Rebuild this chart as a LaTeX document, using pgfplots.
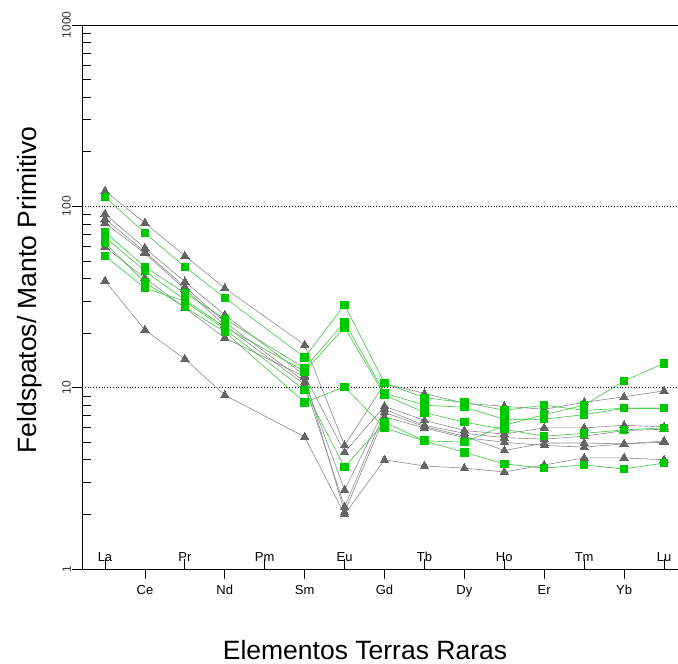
\documentclass[border=0pt]{standalone}
\usepackage{pgfplots}
\pgfplotsset{compat=1.18}
\usepackage{fontspec}
\setmainfont{Liberation Sans}
\definecolor{tri}{RGB}{100,100,100}
\definecolor{grayline}{RGB}{140,140,140}
\definecolor{sq}{RGB}{0,200,0}
\definecolor{greenline}{RGB}{60,200,60}
\begin{document}
\begin{tikzpicture}[x=1pt,y=1pt]
\useasboundingbox (0,0) rectangle (678,664);
\begin{axis}[
  at={(82pt,95pt)}, anchor=south west,
  scale only axis, width=596pt, height=544pt,
  ymode=log, ymin=1, ymax=1000,
  xmin=0.424, xmax=15.35,
  axis lines*=left,
  axis line style={line width=0.8pt, black},
  tick align=outside,
  major tick length=10pt, minor tick length=9pt,
  tick style={line width=0.8pt, black},
  every minor tick/.append style={xshift=9pt},
  ytick={1,10,100,1000}, yticklabels={1,10,100,1000},
  minor ytick={2,3,4,5,6,7,8,9,20,30,40,50,60,70,80,90,200,300,400,500,600,700,800,900},
  yticklabel style={rotate=90, anchor=south, font=\fontsize{12}{14}\selectfont, inner sep=1pt, text=black!80},
  xtick={2,4,6,8,10,12,14},
  xticklabels={Ce,Nd,Sm,Gd,Dy,Er,Yb},
  xticklabel style={font=\fontsize{13}{15}\selectfont, yshift=-3pt},
  extra x ticks={1,3,5,7,9,11,13,15},
  extra x tick labels={La,Pr,Pm,Eu,Tb,Ho,Tm,Lu},
  extra x tick style={tick align=inside, xticklabel style={anchor=south, yshift=7pt}},
  clip=false,
]
\draw[dotted, line width=0.8pt] (rel axis cs:0,0.33333) -- (rel axis cs:1,0.33333);
\draw[dotted, line width=0.8pt] (rel axis cs:0,0.66667) -- (rel axis cs:1,0.66667);
\draw[line width=0.8pt] ([xshift=-10pt]rel axis cs:0,1) -- (rel axis cs:1,1);
\draw[line width=0.8pt] ([xshift=-10pt]rel axis cs:0,0) -- (rel axis cs:0,0);

\pgfplotsset{
  grayser/.style={color=grayline, line width=0.6pt, mark=triangle*, mark size=4.8pt, mark options={fill=tri, draw=tri, line width=0pt}},
  greenser/.style={color=greenline, line width=0.6pt, mark=square*, mark size=3.7pt, mark options={fill=sq, draw=sq, line width=0pt}},
}
% gray series
\addplot[grayser] coordinates {(1,121.6)(2,81)(3,53.3)(4,35.4)(6,17.2)(7,4.8)(8,10.5)(9,9.3)(10,8.2)(11,7.9)(12,7.6)(13,8.3)(14,8.9)(15,9.6)};
\addplot[grayser] coordinates {(1,90.8)(2,58.8)(3,38.4)(4,25.2)(6,11.7)(7,4.4)(8,7.9)(9,6.6)(10,5.8)(11,5.55)(12,6.0)(13,6.0)(14,6.2)(15,6.07)};
\addplot[grayser] coordinates {(1,85.3)(2,56)(3,36)(4,23)(6,10.8)(7,2.73)(8,7.6)(9,6.2)(10,5.6)(11,5.3)(12,5.2)(13,5.4)(14,5.8)(15,5.9)};
\addplot[grayser] coordinates {(1,81)(2,55)(3,35)(4,22)(6,10.4)(7,2.2)(8,7.3)(9,6.1)(10,5.4)(11,4.5)(12,4.95)(13,4.95)(14,4.9)(15,5.08)};
\addplot[grayser] coordinates {(1,59.7)(2,40.2)(3,27.5)(4,18.8)(6,11.5)(7,2.06)(8,6.9)(9,6.0)(10,5.3)(11,5.0)(12,4.8)(13,4.7)(14,4.9)(15,5.0)};
\addplot[grayser] coordinates {(1,38.8)(2,20.8)(3,14.4)(4,9.1)(6,5.35)(7,2.0)(8,4.0)(9,3.7)(10,3.6)(11,3.43)(12,3.75)(13,4.1)(14,4.1)(15,4.0)};
% green series
\addplot[greenser] coordinates {(1,112.7)(2,71.3)(3,46.4)(4,31.3)(6,14.7)(7,28.6)(8,10.6)(9,8.8)(10,8.3)(11,7.5)(12,8.0)(13,7.5)(14,7.7)(15,7.7)};
\addplot[greenser] coordinates {(1,72)(2,46.4)(3,33.3)(4,23.9)(6,12.8)(7,23.0)(8,9.35)(9,8.0)(10,7.8)(11,6.7)(12,6.7)(13,7.1)(14,7.7)(15,7.7)};
\addplot[greenser] coordinates {(1,67.5)(2,44)(3,30.5)(4,21.6)(6,12.3)(7,21.5)(8,9.1)(9,7.3)(10,6.45)(11,5.9)(12,5.4)(13,5.6)(14,5.85)(15,6.0)};
\addplot[greenser] coordinates {(1,63)(2,38)(3,27.8)(4,20.3)(6,8.3)(7,10.1)(8,6.0)(9,5.08)(10,4.4)(11,3.8)(12,3.6)(13,3.75)(14,3.56)(15,3.84)};
\addplot[greenser] coordinates {(1,53.3)(2,35.4)(3,30)(4,21)(6,9.7)(7,3.65)(8,6.45)(9,5.1)(10,5.0)(11,6.2)(12,7.1)(13,8.0)(14,10.9)(15,13.6)};
\end{axis}
\node[rotate=90, font=\fontsize{26.5}{30}\selectfont] at (30,374) {Feldspatos/ Manto Primitivo};
\node[font=\fontsize{26.5}{30}\selectfont, inner sep=0pt] at (365,14) {Elementos Terras Raras};
\end{tikzpicture}
\end{document}
